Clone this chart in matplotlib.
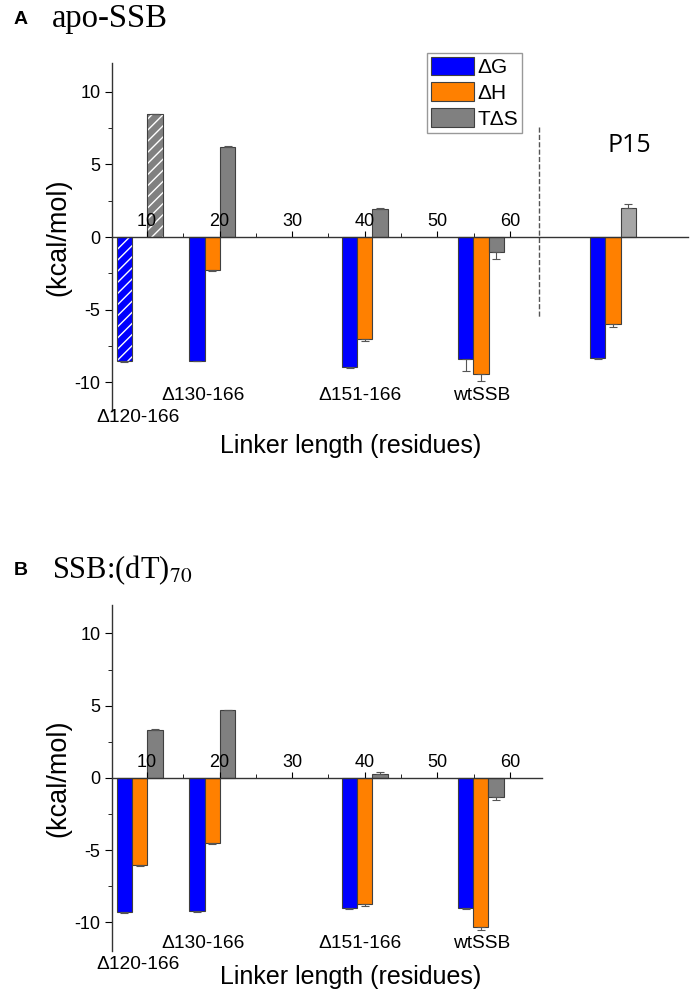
import numpy as np
import matplotlib
matplotlib.use("Agg")
import matplotlib.pyplot as plt
from matplotlib.ticker import MultipleLocator
from matplotlib.patches import Patch

plt.rcParams['font.family'] = ['Liberation Sans', 'DejaVu Sans']
plt.rcParams['mathtext.fontset'] = 'stix'
plt.rcParams['axes.unicode_minus'] = False

# data (kcal/mol)
groups = ['\u0394120-166', '\u0394130-166', '\u0394151-166', 'wtSSB']
linker = [9, 19, 40, 56]
p15_pos = 74.2

dG_A = [-8.55, -8.5, -8.95, -8.4]
dH_A = [np.nan, -2.3, -7.05, -9.4]
TdS_A = [8.5, 6.2, 1.9, -1.0]
dG_A_err = [0.05, 0.05, 0.05, 0.8]
dH_A_err = [0.0, 0.05, 0.1, 0.5]
TdS_A_err = [0.0, 0.05, 0.1, 0.5]

p15_vals = [-8.3, -6.0, 2.0]
p15_err = [0.1, 0.2, 0.3]

dG_B = [-9.3, -9.25, -9.0, -9.0]
dH_B = [-6.0, -4.5, -8.75, -10.35]
TdS_B = [3.3, 4.7, 0.3, -1.3]
dG_B_err = [0.05, 0.05, 0.05, 0.05]
dH_B_err = [0.1, 0.1, 0.1, 0.15]
TdS_B_err = [0.1, 0.0, 0.1, 0.2]

c_blue = '#0000ff'
c_orange = '#ff8000'
c_gray = '#808080'
c_gray2 = '#a6a6a6'
w = 2.1
off = 2.1


def one_sided(vals, errs):
    # error bar only on the outer side of each bar
    vals = np.asarray(vals, float)
    errs = np.asarray(errs, float)
    lo = np.where(vals < 0, errs, 0)
    hi = np.where(vals >= 0, errs, 0)
    return [lo, hi]


def draw_series(ax, x, vals, errs, colors, hatched=None):
    x = np.asarray(x, float)
    vals = np.asarray(vals, float)
    if isinstance(colors, str):
        colors = [colors] * len(x)
    for i in range(len(x)):
        if np.isnan(vals[i]):
            continue
        if hatched is not None and hatched[i]:
            ax.bar(x[i], vals[i], w, color=colors[i], edgecolor='white', hatch='///', linewidth=0)
            ax.bar(x[i], vals[i], w, fill=False, edgecolor='#404040', linewidth=0.8)
        else:
            ax.bar(x[i], vals[i], w, color=colors[i], edgecolor='#404040', linewidth=0.8)
    ax.errorbar(x, vals, yerr=one_sided(vals, errs), fmt='none', ecolor='#555555',
                elinewidth=0.8, capsize=3, capthick=0.8)


def style_axis(ax, xmax, xlab_y):
    ax.set_xlim(5.2, xmax)
    ax.set_ylim(-12, 12)
    ax.spines['top'].set_visible(False)
    ax.spines['right'].set_visible(False)
    ax.spines['bottom'].set_position(('data', 0))
    for s in ['left', 'bottom']:
        ax.spines[s].set_linewidth(1.0)
        ax.spines[s].set_color('#333333')
    ax.set_xticks([10, 20, 30, 40, 50, 60])
    ax.set_xticks([15, 25, 35, 45, 55], minor=True)
    ax.yaxis.set_major_locator(MultipleLocator(5))
    ax.yaxis.set_minor_locator(MultipleLocator(2.5))
    ax.tick_params(axis='x', which='both', direction='in', pad=-17, labelsize=13)
    ax.tick_params(axis='x', which='major', length=4)
    ax.tick_params(axis='x', which='minor', length=3)
    ax.tick_params(axis='y', which='major', direction='out', length=5, labelsize=13)
    ax.tick_params(axis='y', which='minor', direction='out', length=3)
    ax.set_ylabel('(kcal/mol)', fontsize=19.5, labelpad=2)
    ax.text(38, xlab_y, 'Linker length (residues)', ha='center', va='center', fontsize=18)


fig = plt.figure(figsize=(6.92, 9.96), dpi=100)
axA = fig.add_axes([0.162, 0.587, 0.832, 0.350])
axB = fig.add_axes([0.162, 0.045, 0.621, 0.348])

x = np.array(linker, float)
label_x = [8.8, 17.7, 39.3, 56.1]

# panel A
draw_series(axA, x - off, dG_A, dG_A_err, c_blue, hatched=[True, False, False, False])
draw_series(axA, x, dH_A, dH_A_err, c_orange)
draw_series(axA, x + off, TdS_A, TdS_A_err, c_gray, hatched=[True, False, False, False])
p15_x = [p15_pos - off, p15_pos, p15_pos + off]
draw_series(axA, p15_x, p15_vals, p15_err, [c_blue, c_orange, c_gray2])
axA.plot([64, 64], [7.6, -5.5], ls='--', color='#555555', lw=1)
axA.text(p15_pos + 2.2, 6.3, 'P15', ha='center', va='center', fontsize=18, family='Open Sans')
style_axis(axA, 84.5, -14.4)

label_y_A = [-12.4, -10.9, -10.9, -10.9]
for lx, ly, g in zip(label_x, label_y_A, groups):
    axA.text(lx, ly, g, ha='center', va='center', fontsize=13.8)

handles = [Patch(facecolor=c, edgecolor='#404040', linewidth=0.8) for c in [c_blue, c_orange, c_gray]]
axA.legend(handles, ['\u0394G', '\u0394H', 'T\u0394S'], loc='upper left',
           bbox_to_anchor=(0.547, 1.029), borderaxespad=0,
           fontsize=15, handlelength=2.05, handleheight=1.0, handletextpad=0.15,
           labelspacing=0.25, borderpad=0.2, fancybox=False, edgecolor='#999999',
           framealpha=1)

# panel B
draw_series(axB, x - off, dG_B, dG_B_err, c_blue)
draw_series(axB, x, dH_B, dH_B_err, c_orange)
draw_series(axB, x + off, TdS_B, TdS_B_err, c_gray)
style_axis(axB, 64.4, -13.8)
label_y_B = [-12.9, -11.45, -11.45, -11.45]
for lx, ly, g in zip(label_x, label_y_B, groups):
    axB.text(lx, ly, g, ha='center', va='center', fontsize=13.8)

# panel titles
fig.text(0.02, 0.98, 'A', fontsize=14, fontweight='bold', va='center')
fig.text(0.075, 0.981, 'apo-SSB', fontsize=23.5, family='Liberation Serif', va='center')
fig.text(0.02, 0.427, 'B', fontsize=14, fontweight='bold', va='center')
fig.text(0.075, 0.427, r'SSB:(dT)$_{70}$', fontsize=22, family='Liberation Serif', va='center')

fig.savefig('out.png', dpi=100)
